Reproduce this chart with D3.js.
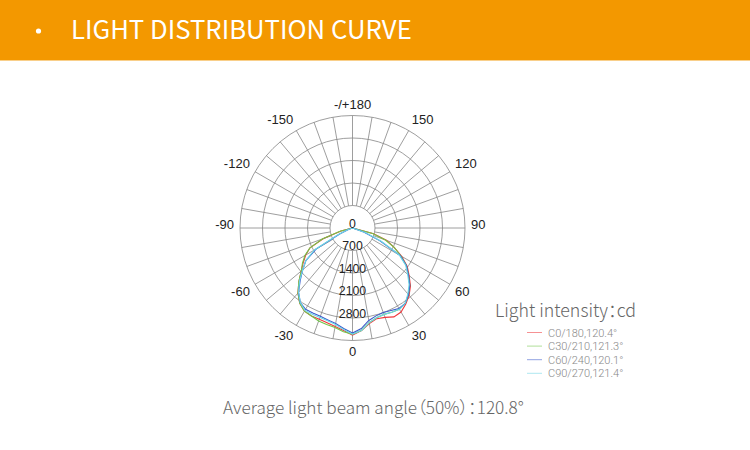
<!DOCTYPE html>
<html><head><meta charset="utf-8">
<script src="https://cdn.jsdelivr.net/npm/d3@7"></script>
<style>body{margin:0;background:#fff;}svg{display:block;} .cjk{font-feature-settings:"palt";}</style>
</head><body><svg id="c" width="750" height="450"></svg>
<script>
// ---- data ----
const angles = [-90,-85,-80,-75,-70,-65,-60,-55,-50,-45,-40,-35,-30,-25,-20,-15,-10,-5,0,5,10,15,20,25,30,35,40,45,50,55,60,65,70,75,80,85,90];
const c0_180  = [0,0,0,370,960,1460,1680,1870,2080,2360,2640,2860,2990,3020,3020,3050,3110,3200,3330,3200,3020,2920,2960,3050,3020,2890,2740,2550,2300,2080,1770,1430,1120,680,0,0,0];
const c30_210 = [0,0,0,400,1000,1460,1710,1900,2080,2360,2640,2860,2990,3020,3080,3110,3140,3240,3300,3200,2990,2890,2860,2890,2920,2860,2710,2520,2270,2050,1740,1430,1090,650,0,0,0];
const c60_240 = [0,0,0,0,120,440,1310,1770,2020,2300,2610,2830,2920,2920,2920,2960,3020,3140,3270,3140,2920,2830,2800,2830,2890,2860,2710,2520,2270,2050,1710,930,370,0,0,0,0];
const c90_270 = [0,0,0,0,160,500,1370,1770,2020,2330,2610,2830,2960,2960,2960,2990,3050,3170,3300,3200,2990,2890,2860,2890,2920,2860,2680,2490,2240,2020,1680,1000,440,0,0,0,0];
const seriesNames = ["C0/180,120.4°","C30/210,121.3°","C60/240,120.1°","C90/270,121.4°"];
const seriesColors = ["#f0383c","#72c648","#3b58cc","#6dd6e6"];
const radialTicks = [0,700,1400,2100,2800];
const ringValues = [700,1400,2100,2800,3500];
const angleTicks = [0,30,60,90,120,150,180,-150,-120,-90,-60,-30];
const angleTickLabels = ["0","30","60","90","120","150","-/+180","-150","-120","-90","-60","-30"];
const title = "LIGHT DISTRIBUTION CURVE";
const legendTitle = "Light intensity：cd";
const footer = "Average light beam angle（50%）：120.8°";

const svg = d3.select("#c");
svg.append("rect").attr("width",750).attr("height",450).attr("fill","#fff");
// header
svg.append("rect").attr("x",0).attr("y",0).attr("width",750).attr("height",60).attr("fill","#f39800");
svg.append("rect").attr("x",0).attr("y",60).attr("width",750).attr("height",1).attr("fill","#f9cf8a");
svg.append("circle").attr("cx",38.5).attr("cy",31).attr("r",2.6).attr("fill","#fff");
svg.append("text").attr("x",71).attr("y",38.5).text(title)
  .attr("fill","#fff").attr("font-family","'Noto Sans CJK SC','Noto Sans',sans-serif").attr("font-size",25.7);

// polar
const cx = 352.5, cy = 228, R = 112.5;
const r = d3.scaleLinear().domain([0,3500]).range([0,R]);
const toRad = a => (180 - a) * Math.PI / 180; // d3 radial angle: 0 = up, clockwise
const g = svg.append("g").attr("transform",`translate(${cx},${cy})`);
const grid = g.append("g").attr("stroke","#858585").attr("stroke-width",0.8).attr("fill","none");
grid.selectAll("circle").data(ringValues).join("circle").attr("r",d=>r(d));
const spokes = d3.range(0,360,10);
grid.selectAll("line").data(spokes).join("line")
  .attr("x1",d=>r(700)*Math.sin(d*Math.PI/180)).attr("y1",d=>r(700)*Math.cos(d*Math.PI/180))
  .attr("x2",d=>R*Math.sin(d*Math.PI/180)).attr("y2",d=>R*Math.cos(d*Math.PI/180));

// curves
const all = [c0_180,c30_210,c60_240,c90_270];
const line = d3.lineRadial().angle(d=>toRad(d[0])).radius(d=>r(d[1]));
all.forEach((s,i)=>{
  g.append("path").attr("d",line(angles.map((a,j)=>[a,s[j]])))
   .attr("fill","none").attr("stroke",seriesColors[i]).attr("stroke-width",1.1);
});

// radial labels
g.selectAll("text.rl").data(radialTicks).join("text").attr("class","rl")
  .attr("x",0).attr("y",d=>r(d)-0.5).attr("text-anchor","middle")
  .attr("font-family","'Liberation Sans',Arial,sans-serif").attr("font-size",12.3).attr("fill","#222")
  .text(d=>d);
// angle labels
const LR = R + 6;
g.selectAll("text.al").data(angleTicks).join("text").attr("class","al")
  .each(function(d,i){
    const s = Math.sin(d*Math.PI/180), c = Math.cos(d*Math.PI/180);
    const px = LR*s, py = LR*c;
    const t = d3.select(this);
    let anchor = Math.abs(s) < 0.01 ? "middle" : (s > 0 ? "start" : "end");
    let y;
    if (Math.abs(c) < 0.01) y = 1;
    else if (c < 0) y = py - 1;
    else y = py + 9;
    t.attr("x",px).attr("y",y).attr("text-anchor",anchor).text(angleTickLabels[i]);
  })
  .attr("font-family","'Liberation Sans',Arial,sans-serif").attr("font-size",13).attr("fill","#222");

// legend
svg.append("text").attr("class","cjk").attr("x",495).attr("y",317).text(legendTitle)
  .attr("font-family","'Noto Sans CJK SC','Noto Sans',sans-serif").attr("font-weight",300)
  .attr("font-size",17.8).attr("fill","#666");
const lg = svg.append("g");
seriesNames.forEach((n,i)=>{
  const y = 332.5 + i*13.6;
  lg.append("line").attr("x1",527).attr("x2",542).attr("y1",y).attr("y2",y)
    .attr("stroke",seriesColors[i]).attr("stroke-width",1).attr("opacity",0.55);
  lg.append("text").attr("x",548).attr("y",y+4).text(n)
    .attr("font-family","Roboto,'Liberation Sans',sans-serif").attr("font-weight",300)
    .attr("font-size",11).attr("fill","#888");
});

// footer
svg.append("text").attr("class","cjk").attr("x",223).attr("y",414).text(footer)
  .attr("font-family","'Noto Sans CJK SC','Noto Sans',sans-serif").attr("font-weight",300)
  .attr("font-size",17.2).attr("fill","#666");
</script></body></html>
